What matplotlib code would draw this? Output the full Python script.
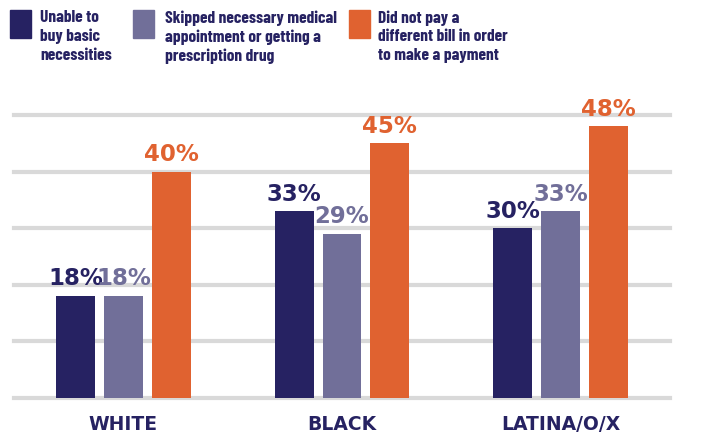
import matplotlib.pyplot as plt
from matplotlib.patches import Rectangle
import numpy as np

groups = ["WHITE", "BLACK", "LATINA/O/X"]
series_names = [
    "Unable to\nbuy basic\nnecessities",
    "Skipped necessary medical\nappointment or getting a\nprescription drug",
    "Did not pay a\ndifferent bill in order\nto make a payment",
]
basic_needs = [18, 33, 30]
skipped_medical = [18, 29, 33]
unpaid_bill = [40, 45, 48]

colors = ["#262262", "#716f99", "#e06230"]
grid_color = "#d9d9d9"
legend_font = ["Barlow Condensed", "DejaVu Sans"]

fig = plt.figure(figsize=(7.15, 4.37), dpi=100)
ax = fig.add_axes([14 / 715, 39 / 437, 656 / 715, 283 / 437])
ax.set_xlim(-0.5, 2.5)
ax.set_ylim(0, 50)

for y in range(0, 51, 10):
    ax.axhline(y, color=grid_color, lw=3, zorder=0, clip_on=False)

x = np.arange(len(groups))
step = 48 / 219
width = 39 / 219
for i, vals in enumerate([basic_needs, skipped_medical, unpaid_bill]):
    pos = x + (i - 1) * step
    ax.bar(pos, vals, width=width, color=colors[i], zorder=2)
    for p, v in zip(pos, vals):
        ax.text(p, v + 1.0, f"{v}%", ha="center", va="bottom", fontsize=16.5,
                fontweight="bold", color=colors[i], clip_on=False)

for xi, g in zip(x, groups):
    ax.text(xi, -4.6, g, ha="center", va="center", fontsize=13.5,
            fontweight="bold", color=colors[0], clip_on=False)

ax.set_xticks([])
ax.set_yticks([])
for s in ax.spines.values():
    s.set_visible(False)

# legend drawn by hand at the top
sq_x = [10, 133, 349]
txt_x = [40, 165, 378]
for i in range(3):
    fig.patches.append(Rectangle((sq_x[i] / 715, 1 - 38 / 437), 21 / 715, 28 / 437,
                                 transform=fig.transFigure, color=colors[i]))
    fig.text(txt_x[i] / 715, 1 - 10 / 437, series_names[i], ha="left", va="top",
             fontsize=12.5, fontweight="bold", family=legend_font, color=colors[0],
             linespacing=1.3)

fig.savefig("out.png", dpi=100)
